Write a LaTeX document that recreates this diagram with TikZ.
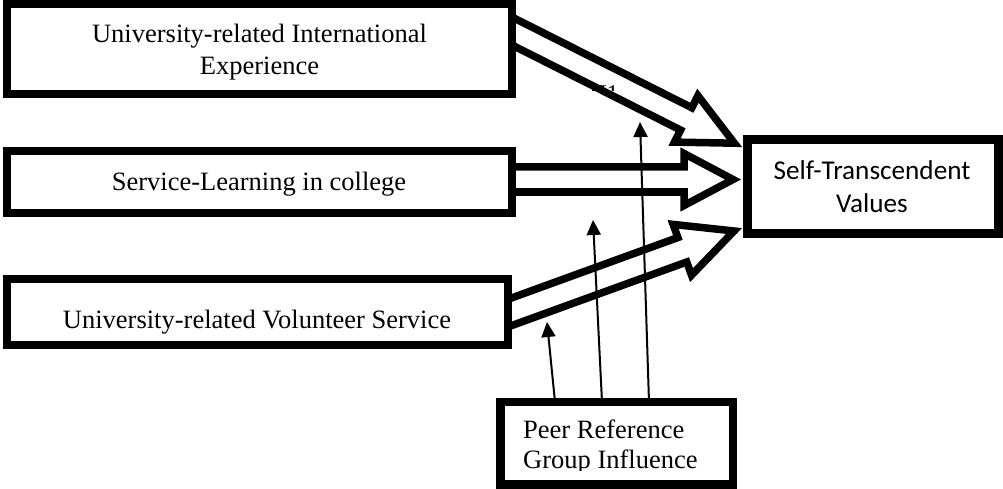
\documentclass[tikz,border=0pt]{standalone}
\usepackage{fontspec}
\setmainfont{Liberation Serif}
\newfontfamily\calib{Carlito}
\usetikzlibrary{calc,arrows.meta}
\tikzset{
  boxn/.style={draw=black, fill=white, line width=8pt, line join=miter, rectangle, inner sep=0pt},
  blockarr/.style={draw=black, fill=white, line width=7.5pt, line join=miter, miter limit=10},
  thinarr/.style={draw=black, line width=2pt, -{Triangle[length=15pt,width=14pt]}},
  txt/.style={font=\fontsize{26.5}{33}\selectfont, inner sep=0pt, anchor=base},
  sans/.style={font=\calib\fontsize{27.2}{33}\selectfont, inner sep=0pt, anchor=base}
}
\newcommand{\blockarrow}[5]{%
  \coordinate (ba-c) at ($(#2)!#5!(#1)$);
  \draw[blockarr] ($(#1)!#3!90:(#2)$) -- ($(ba-c)!#3!90:(#2)$) -- ($(ba-c)!#4!90:(#2)$) -- (#2)
    -- ($(ba-c)!#4!-90:(#2)$) -- ($(ba-c)!#3!-90:(#2)$) -- ($(#1)!#3!-90:(#2)$) -- cycle;
}
\begin{document}
\begin{tikzpicture}[x=1pt,y=-1pt]
\useasboundingbox (0,0) rectangle (1003,489);
% connector end points
\coordinate (a1s) at (498,24);
\coordinate (a1t) at (734.4,143.2);
\coordinate (a2s) at (500,179.5);
\coordinate (a2t) at (733,179.5);
\coordinate (a3s) at (496.9,317.1);
\coordinate (a3t) at (734,231);
% block arrows
\blockarrow{a1s}{a1t}{12.5pt}{26pt}{54pt}
\blockarrow{a3s}{a3t}{13pt}{27pt}{55pt}
\blockarrow{a2s}{a2t}{12.5pt}{26pt}{49pt}
% moderator arrows
\coordinate (pa) at (555,402);
\coordinate (pb) at (602,402);
\coordinate (pc) at (649,402);
\coordinate (ta) at (547,322);
\coordinate (tb) at (593,220);
\coordinate (tc) at (640,122);
\draw[thinarr] (pa) -- (ta);
\draw[thinarr] (pb) -- (tb);
\draw[thinarr] (pc) -- (tc);
% partially hidden label
\begin{scope}
  \clip (585,85) rectangle (625,91);
  \node[txt, font=\fontsize{24}{28}\selectfont] (h1) at (604,102) {H1};
\end{scope}
% boxes
\node[boxn, minimum width=505pt, minimum height=90pt] (b1) at (259.5,49) {};
\node[boxn, minimum width=505pt, minimum height=61.5pt] (b2) at (259.5,181.75) {};
\node[boxn, minimum width=500.5pt, minimum height=66pt] (b3) at (257.25,311.5) {};
\node[boxn, line width=9pt, minimum width=251pt, minimum height=94pt] (st) at (873,186.5) {};
\node[boxn, line width=8.5pt, minimum width=232.5pt, minimum height=82.5pt] (p) at (616.75,443.25) {};
% texts
\node[txt] (t1a) at (259.5,43) {University-related International};
\node[txt] (t1b) at (259.5,75) {Experience};
\node[txt] (t2) at (259,190) {Service-Learning in college};
\node[txt] (t3) at (257,328) {University-related Volunteer Service};
\node[sans] (s1) at (872,179) {Self-Transcendent};
\node[sans] (s2) at (872,212) {Values};
\begin{scope}
  \clip (505,406) rectangle (729,470);
  \node[txt, anchor=base west] (p1) at (523,438) {Peer Reference};
  \node[txt, anchor=base west] (p2) at (523,468) {Group Influence};
\end{scope}
\end{tikzpicture}
\end{document}
